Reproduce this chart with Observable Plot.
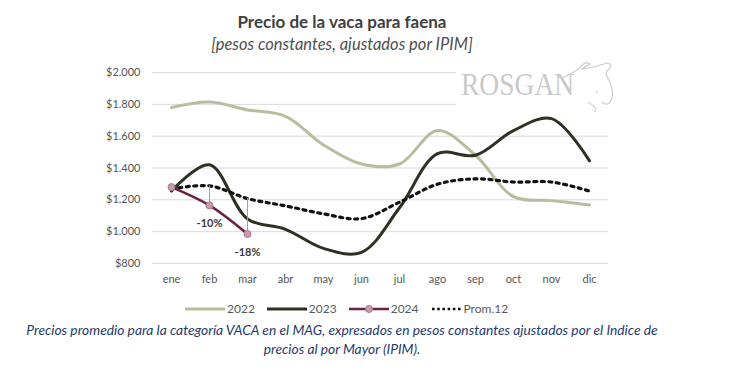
<!DOCTYPE html>
<html>
<head>
<meta charset="utf-8">
<script src="https://cdn.jsdelivr.net/npm/d3@7"></script>
<script src="https://cdn.jsdelivr.net/npm/@observablehq/plot@0.6"></script>
<style>
  body { margin: 0; background: #fff; }
  #wrap { position: relative; width: 730px; height: 371px; font-family: Lato, "Open Sans", sans-serif; overflow: hidden; }
  .abs { position: absolute; left: 0; width: 684px; text-align: center; }
  #title { top: 11px; font-weight: bold; font-size: 17px; color: #404040; }
  #subtitle { top: 34px; font-style: italic; font-size: 16.5px; color: #505050; }
  #chart { position: absolute; left: 0; top: 55px; }
  #logo { position: absolute; left: 456px; top: 56px; width: 160px; height: 58px; background: #fff; }
  #logo span { position: absolute; left: 5px; top: 10px; font-family: "Liberation Serif", serif; font-size: 32px; line-height: 36px; color: #c9c9c9; transform: scaleX(0.86); transform-origin: left center; }
  #logo svg { position: absolute; left: 0; top: 0; }
  #legend { position: absolute; left: 185px; top: 301px; font-size: 12px; color: #5a5a5a; display: flex; align-items: center; }
  #legend .item { display: flex; align-items: center; margin-right: 12px; }
  #legend svg { margin-right: 2px; }
  #caption { top: 320px; font-style: italic; font-size: 13.8px; color: #1f3a6e; line-height: 19px; }
</style>
</head>
<body>
<div id="wrap">
  <div id="title" class="abs">Precio de la vaca para faena</div>
  <div id="subtitle" class="abs">[pesos constantes, ajustados por IPIM]</div>
  <div id="chart"></div>
  <div id="logo">
    <span>ROSGAN</span>
    <svg width="160" height="58">
      <path d="M106,22 C112,20 118,16 124,12 C126,8 130,5 134,8 C132,10 128,10 126,13 C134,12 142,10 148,8 C152,6 156,8 154,12 C152,14 150,15 150,18 C154,26 158,34 156,42 C154,48 150,50 146,46" fill="none" stroke="#cfcfcf" stroke-width="1.3"/>
      <path d="M132,46 C138,50 142,54 138,56" fill="none" stroke="#cfcfcf" stroke-width="1.2"/>
      <circle cx="141" cy="36" r="1" fill="#cfcfcf"/>
    </svg>
  </div>
  <div id="legend"></div>
  <div id="caption" class="abs">Precios promedio para la categoría VACA en el MAG, expresados en pesos constantes ajustados por el Indice de<br>precios al por Mayor (IPIM).</div>
</div>
<script>
const months = ["ene","feb","mar","abr","may","jun","jul","ago","sep","oct","nov","dic"];
const v2022 = [1780, 1815, 1765, 1725, 1545, 1425, 1425, 1635, 1480, 1220, 1195, 1168];
const v2023 = [1255, 1420, 1080, 1015, 895, 870, 1150, 1490, 1480, 1635, 1710, 1445];
const v2024 = [1280, 1165, 985];
const vProm = [1268, 1288, 1208, 1162, 1112, 1082, 1185, 1298, 1332, 1312, 1312, 1255];
const yTicks = [800, 1000, 1200, 1400, 1600, 1800, 2000];
const diffs = [{month: "feb", label: "-10%"}, {month: "mar", label: "-18%"}];

const colors = {"2022": "#b9bd9e", "2023": "#2c3222", "2024": "#6b2140", "Prom.12": "#111"};

const rows = (arr, serie) => arr.map((v, i) => ({month: months[i], value: v, serie}));
const d2022 = rows(v2022, "2022");
const d2023 = rows(v2023, "2023");
const d2024 = rows(v2024, "2024");
const dProm = rows(vProm, "Prom.12");
const dDiff = diffs.map(d => {
  const i = months.indexOf(d.month);
  return {month: d.month, label: d.label, y1: v2024[i], y2: vProm[i]};
});

const fmt = d => "$" + d3.format(",")(d).replace(/,/g, ".");

const chart = Plot.plot({
  width: 730,
  height: 240,
  marginLeft: 152,
  marginRight: 122,
  marginTop: 17,
  marginBottom: 32,
  style: {fontFamily: "Lato, 'Open Sans', sans-serif", fontSize: "11px", color: "#555", background: "transparent"},
  x: {type: "point", domain: months, padding: 0.5, label: null},
  y: {domain: [800, 2000], label: null},
  marks: [
    Plot.gridY(yTicks, {stroke: "#d9d9d9", strokeOpacity: 1, strokeWidth: 1}),
    Plot.axisY(yTicks, {tickSize: 0, tickPadding: 12, tickFormat: fmt, label: null, fill: "#555"}),
    Plot.axisX(months, {tickSize: 0, tickPadding: 12, label: null, fill: "#555"}),
    Plot.line(d2022, {x: "month", y: "value", curve: "catmull-rom", stroke: colors["2022"], strokeWidth: 3}),
    Plot.line(d2023, {x: "month", y: "value", curve: "catmull-rom", stroke: colors["2023"], strokeWidth: 3}),
    Plot.line(dProm, {x: "month", y: "value", curve: "catmull-rom", stroke: colors["Prom.12"], strokeWidth: 3.2, strokeDasharray: "3,4.5"}),
    Plot.ruleX(dDiff, {x: "month", y1: "y1", y2: "y2", stroke: "#a0a0a0", strokeWidth: 1}),
    Plot.line(d2024, {x: "month", y: "value", curve: "catmull-rom", stroke: colors["2024"], strokeWidth: 2.5}),
    Plot.dot(d2024, {x: "month", y: "value", r: 3.5, fill: "#c79bb0", stroke: "#a8778e", strokeWidth: 1}),
    Plot.text(dDiff, {x: "month", y: "y1", text: "label", dy: 18, fontWeight: "bold", fontSize: 11, fill: "#3a3a3a"})
  ]
});
document.getElementById("chart").appendChild(chart);

// legend
const legendItems = [
  {name: "2022", kind: "line", color: colors["2022"]},
  {name: "2023", kind: "line", color: colors["2023"]},
  {name: "2024", kind: "marker", color: colors["2024"]},
  {name: "Prom.12", kind: "dots", color: colors["Prom.12"]}
];
const legend = document.getElementById("legend");
for (const it of legendItems) {
  const div = document.createElement("div");
  div.className = "item";
  let sw;
  if (it.kind === "line") {
    sw = `<svg width="40" height="10"><line x1="0" x2="40" y1="5" y2="5" stroke="${it.color}" stroke-width="3"/></svg>`;
  } else if (it.kind === "marker") {
    sw = `<svg width="40" height="10"><line x1="0" x2="40" y1="5" y2="5" stroke="${it.color}" stroke-width="2.5"/><circle cx="20" cy="5" r="3.5" fill="#c79bb0" stroke="#a8778e"/></svg>`;
  } else {
    sw = `<svg width="31" height="10"><line x1="1" x2="31" y1="5" y2="5" stroke="${it.color}" stroke-width="2.6" stroke-dasharray="2.6,2.6"/></svg>`;
  }
  div.innerHTML = sw + `<span>${it.name}</span>`;
  legend.appendChild(div);
}
</script>
</body>
</html>
